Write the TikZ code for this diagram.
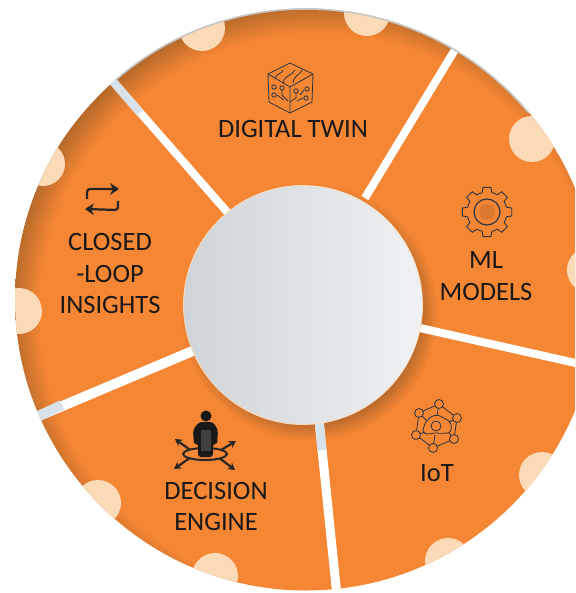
\documentclass[tikz,border=0pt]{standalone}
\usepackage{fontspec}
\setmainfont{Carlito}
\usetikzlibrary{positioning, arrows.meta}
\definecolor{discorange}{HTML}{F58634}
\definecolor{rimdark}{HTML}{B5692A}
\definecolor{hubdark}{HTML}{B8692C}
\definecolor{dotpeach}{HTML}{FBDAB8}
\definecolor{rimgray}{HTML}{C4C6C8}
\definecolor{spokeblue}{HTML}{D8E2EA}
\definecolor{iconink}{HTML}{2A3540}
\definecolor{hubleft}{HTML}{CFD4D8}
\definecolor{hubright}{HTML}{EFF1F3}
\pgfdeclareradialshading{rimshade}{\pgfpointorigin}{color(0bp)=(discorange); color(22.6bp)=(discorange); color(25bp)=(rimdark); color(50bp)=(rimdark)}
\pgfdeclareradialshading{hubshade}{\pgfpointorigin}{color(0bp)=(hubdark); color(19.6bp)=(hubdark); color(23bp)=(discorange); color(50bp)=(discorange)}
\tikzset{
  seglabel/.style={align=center, inner sep=0pt, text=black!90, font=\fontsize{26.5}{31.5}\selectfont},
  spoke/.style={draw=white, line width=8pt},
  spokeend/.style={draw=spokeblue, line width=8pt},
  rimdot/.style={fill=dotpeach},
  iconline/.style={draw=iconink, line width=0.8pt},
  boldline/.style={draw=black!85, line width=2.2pt, rounded corners=3pt},
  cubeicon/.pic={
    \draw[iconline, line join=round] (-22,-14) -- (0,-25) -- (23,-14) -- (22,14) -- (0,25) -- (-21,14) -- cycle;
    \draw[iconline] (-22,-14) -- (0,-1) -- (23,-14) (0,-1) -- (0,25);
    \draw[iconline] (-15,-10) .. controls (-12,-16) and (-9,-13) .. (-7,-18);
    \draw[iconline] (-7,-5) .. controls (-5,-13) and (0,-11) .. (5,-18);
    \draw[iconline] (3,-5) .. controls (4,-13) and (8,-11) .. (12,-18);
    \draw[iconline] (-8,2) -- (-8,7) -- (-2,13);
    \draw[iconline] (-13,7) -- (-6,12);
    \draw[iconline] (6,5) -- (6,10) -- (0,14);
    \draw[iconline] (14,2) -- (10,7);
    \draw[iconline] (13,10) -- (7,13);
    \draw[iconline] (-16,-1) circle (2.2) (-8,0) circle (2.2) (-16,7) circle (2.2);
    \draw[iconline] (6,3) circle (2.2) (17,1) circle (2.2) (16,10) circle (2.2);
  },
  gearicon/.pic={
    \foreach \a in {0,45,...,315}
      \draw[iconline, line width=0.9pt] (\a-14:20) -- (\a-9:25) -- (\a+9:25) -- (\a+14:20) arc[start angle=\a+14, end angle=\a+31, radius=20];
    \draw[iconline, line width=1.2pt] (0,0) circle (13);
    \fill[fill=hubdark!45!discorange] (0,0) circle (8);
  },
  mesh/.pic={
    \coordinate (n1) at (3,-22);
    \coordinate (n2) at (21,-8);
    \coordinate (n3) at (18,13);
    \coordinate (n4) at (-3,22);
    \coordinate (n5) at (-20,9);
    \coordinate (n6) at (-17,-13);
    \draw[iconline] (n1) -- (n2) -- (n3) -- (n4) -- (n5) -- (n6) -- cycle;
    \draw[iconline] (n1) -- (1,-10) (n4) -- (-1,9) (n6) -- (-9,-5) (n3) -- (13,7) (n5) -- (-11,6) (n2) -- (13,-4);
    \draw[iconline] (-13,5) .. controls (-12,-6) and (-3,-13) .. (4,-10) .. controls (10,-6) and (17,-6) .. (15,4) .. controls (14,9) and (6,7) .. (-1,7) .. controls (-6,8) and (-13,9) .. cycle;
    \draw[iconline, fill=discorange] (0,0) circle (5);
    \foreach \n in {1,...,6}
      \draw[iconline, fill=discorange] (n\n) circle (4.5);
  },
  engineicon/.pic={
    \draw[boldline, line width=2pt] (0,0) ellipse (22 and 6);
    \foreach \ex/\ey in {-30/-15,31/-13,-31/15,30/16}
      \draw[draw=black!85, line width=2.2pt, -{Stealth[length=7pt,width=8pt]}] (\ex*.5,\ey*.28) -- (\ex,\ey);
    \fill[fill=black!90] (1,-38) circle (5.5);
    \fill[fill=black!90, rounded corners=3pt] (-11,-9) -- (-12,-24) -- (-6,-32) -- (8,-32) -- (13,-24) -- (12,-9) -- (8,-11) -- (8,3) -- (-7,3) -- (-7,-11) -- cycle;
    \fill[fill=black!75] (-4,-24) rectangle (6,-3);
  }
}
\begin{document}
\begin{tikzpicture}[x=1pt, y=-1pt]
  \useasboundingbox (0,0) rectangle (575,593);
  \clip (0,0) rectangle (575,593);
  \coordinate (C) at (306,299.5);
  \coordinate (H) at (303,305);

  \begin{scope}
    \clip (C) circle (291);
    \shade[shading=rimshade] (318,312) circle (308);
    \shade[shading=hubshade] (309,312) circle (140);
    \fill[rimdot] (202,28) circle (23);
    \fill[rimdot] (367,13) circle (23);
    \fill[rimdot] (532,139) circle (23);
    \fill[rimdot] (590,270) circle (23);
    \fill[rimdot] (542,475) circle (23);
    \fill[rimdot] (448,561) circle (23);
    \fill[rimdot] (215,576) circle (23);
    \fill[rimdot] (98,503) circle (23);
    \fill[rimdot] (19,311) circle (23);
    \fill[rimdot] (43,164) circle (22);

    \coordinate (s1in) at (228,213);
    \coordinate (s1mid) at (140,113);
    \coordinate (s1out) at (110,78);
    \coordinate (s2in) at (365,198);
    \coordinate (s2out) at (456,48);
    \coordinate (s3in) at (420,328);
    \coordinate (s3out) at (580,364);
    \coordinate (s4in) at (319,420);
    \coordinate (s4mid) at (322,450);
    \coordinate (s4out) at (337,596);
    \coordinate (s5in) at (195,350);
    \coordinate (s5mid) at (62,405);
    \coordinate (s5out) at (34,418);

    \draw[spoke] (s1in) -- (s1out);
    \draw[spoke] (s2in) -- (s2out);
    \draw[spoke] (s3in) -- (s3out);
    \draw[spoke, line width=9pt] (s4in) -- (s4out);
    \draw[spoke, line width=10pt] (s5in) -- (s5out);
    \draw[spokeend] (s1mid) -- (s1out);
    \draw[spokeend, line width=10pt] (s5mid) -- (s5out);
    \draw[spokeend, line width=9pt] (s4in) -- (s4mid);
  \end{scope}

  % rim edge along the top
  \draw[draw=rimgray, line width=1.5pt] (C) ++(-131:290.5) arc[start angle=-131, end angle=-40, radius=290.5];

  \shade[left color=hubleft, right color=hubright, draw=dotpeach, line width=0.8pt] (H) circle (119.5);

  \node[seglabel] (twin) at (293,129) {DIGITAL TWIN};
  \node[seglabel] (models) at (486,276) {ML\\MODELS};
  \node[seglabel] (iot) at (437,473) {IoT};
  \node[seglabel] (engine) at (216,506.5) {DECISION\\ENGINE};
  \node[seglabel] (insights) at (110,273.5) {CLOSED\\-LOOP\\INSIGHTS};

  \pic at (290,88) {cubeicon};
  \pic at (487,212) {gearicon};
  \pic at (436,426) {mesh};
  \pic at (205,454) {engineicon};

  % loop arrows
  \coordinate (u1) at (87,199);
  \coordinate (u2) at (87,189);
  \coordinate (u3) at (119,189);
  \coordinate (l1) at (118,201);
  \coordinate (l2) at (118,210);
  \coordinate (l3) at (85,209);
  \draw[boldline, -{Stealth[length=9pt,width=12pt]}] (u1) -- (u2) -- (u3);
  \draw[boldline, -{Stealth[length=9pt,width=12pt]}] (l1) -- (l2) -- (l3);
\end{tikzpicture}
\end{document}
